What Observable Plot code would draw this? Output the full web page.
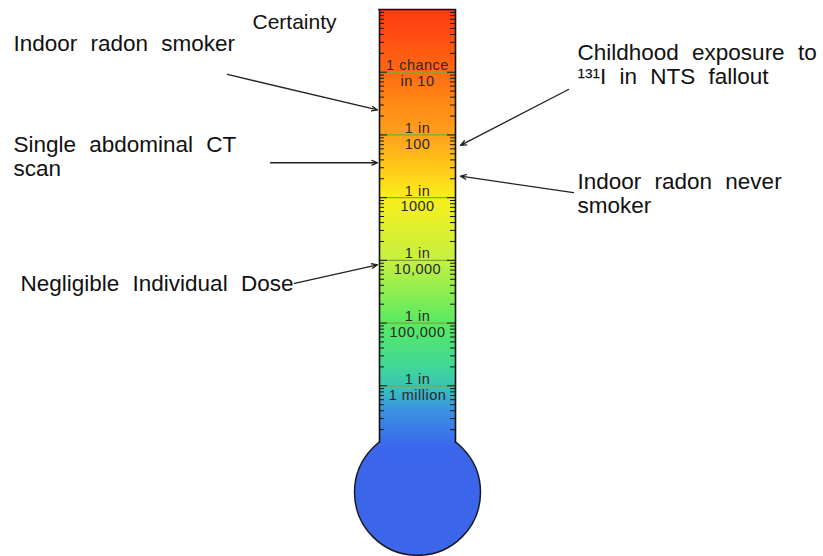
<!DOCTYPE html>
<html><head><meta charset="utf-8">
<script src="https://cdn.jsdelivr.net/npm/d3@7"></script>
<script src="https://cdn.jsdelivr.net/npm/@observablehq/plot@0.6"></script>
<style>body{margin:0;background:#fff}</style>
</head><body><div id="chart"></div>
<script>
// ---- Data ----
const scaleTopLabel = "Certainty";
const decadeRisks = [1e-1, 1e-2, 1e-3, 1e-4, 1e-5, 1e-6];
const decadeTopLines = ["1 chance", "1 in", "1 in", "1 in", "1 in", "1 in"];
const decadeBottomLines = ["in 10", "100", "1000", "10,000", "100,000", "1 million"];
const annotationLabels = [
  "Indoor radon smoker",
  "Single abdominal CT\nscan",
  "Childhood exposure to\n¹³¹I in NTS fallout",
  "Indoor radon never\nsmoker",
  "Negligible Individual Dose"
];
const annotationRisks = [0.025, 0.0036, 0.0068, 0.0022, 0.000085];
const colorStopRisks = [1, 0.3, 0.1, 0.03, 0.01, 0.003, 0.001, 1e-4, 1e-5, 2e-6, 1e-6, 4e-7, 1e-7];
const colorStopColors = ["#ff3a10", "#ff5212", "#ff6a12", "#ff8a16", "#ffa01c", "#ffc818", "#f8ef1c",
                         "#c6f040", "#58ea62", "#40d896", "#3cc4b4", "#3a92e2", "#3a66ee"];

// ---- Layout ----
const W = 823, H = 556;
const tubeLeft = 379, tubeRight = 455, tubeCenter = 417;
const tubeTop = 1, tubeBottom = 1e-7, tubeFillBottom = 6e-8, edgeBottom = 1.2e-7;
const bulbRisk = 2e-8, bulbRadius = 63;
const arrowTails = [{x: 227, y: 0.092}, {x: 270, y: 0.0036}, {x: 568, y: 0.053}, {x: 573, y: 0.0012}, {x: 294, y: 0.000043}];
const arrowHeadX = [377, 377, 460, 460, 377];
const labelPos = [{x: 13, y: 50}, {x: 13, y: 175}, {x: 577, y: 83}, {x: 577, y: 212}, {x: 20, y: 290}];
const font = "'Liberation Sans', Arial, sans-serif";

const gradientMark = (index, scales) => {
  const y0 = scales.y(tubeTop), y1 = scales.y(tubeBottom);
  const defs = d3.create("svg:defs");
  const g = defs.append("linearGradient").attr("id", "tubeGrad")
    .attr("gradientUnits", "userSpaceOnUse")
    .attr("x1", 0).attr("x2", 0).attr("y1", y0).attr("y2", y1);
  colorStopRisks.forEach((r, i) => g.append("stop")
    .attr("offset", (scales.y(r) - y0) / (y1 - y0))
    .attr("stop-color", colorStopColors[i]));
  return defs.node();
};

const tickRows = d3.scaleLog().domain([tubeBottom, tubeTop]).ticks()
  .filter(v => v > tubeBottom * 1.01 && v < tubeTop * 0.99)
  .map(v => ({v, major: Math.abs(Math.log10(v) - Math.round(Math.log10(v))) < 1e-9}));

const decadeRows = decadeRisks.map((r, i) => ({r, top: decadeTopLines[i], bottom: decadeBottomLines[i]}));
const arrowRows = annotationRisks.map((r, i) => ({x1: arrowTails[i].x, y1: arrowTails[i].y, x2: arrowHeadX[i], y2: r}));

const labelMarks = annotationLabels.map((t, i) => Plot.text([t], {
  text: d => d, frameAnchor: "top-left", dx: labelPos[i].x, dy: labelPos[i].y,
  textAnchor: "start", lineAnchor: "bottom", lineHeight: 1.05, fontSize: 22.5, fill: "#111"
}));

const svg = Plot.plot({
  width: W, height: H,
  marginTop: 0, marginRight: 0, marginBottom: 0, marginLeft: 0,
  style: {fontFamily: font, background: "#fff"},
  x: {domain: [0, W], range: [0, W], axis: null},
  y: {type: "log", domain: [tubeBottom, tubeTop], range: [448, 9], axis: null},
  marks: [
    gradientMark,
    Plot.dot([0], {x: () => tubeCenter, y: () => bulbRisk, r: bulbRadius, fill: "#3b66ea", stroke: "#1b1b28", strokeWidth: 1.5}),
    Plot.rect([0], {x1: () => tubeLeft, x2: () => tubeRight, y1: () => tubeFillBottom, y2: () => tubeTop, fill: "url(#tubeGrad)"}),
    Plot.ruleY(decadeRows, {y: "r", x1: () => tubeLeft, x2: () => tubeRight, stroke: "#7fa83a", strokeWidth: 1.2}),
    Plot.ruleY(tickRows, {y: "v", x1: () => tubeLeft, x2: d => tubeLeft + (d.major ? 8 : 5), stroke: "#151515", strokeWidth: 1}),
    Plot.ruleY(tickRows, {y: "v", x1: d => tubeRight - (d.major ? 8 : 5), x2: () => tubeRight, stroke: "#151515", strokeWidth: 1}),
    Plot.ruleX([tubeLeft, tubeRight], {x: d => d, y1: () => edgeBottom, y2: () => tubeTop, stroke: "#111", strokeWidth: 1.6}),
    Plot.ruleY([tubeTop], {y: d => d, x1: () => tubeLeft - 0.8, x2: () => tubeRight + 0.8, stroke: "#111", strokeWidth: 1.6}),
    Plot.text(decadeRows, {x: () => tubeCenter, y: "r", text: "top", lineAnchor: "bottom", dy: -2, fontSize: 14.5, fill: "#2a2a2a"}),
    Plot.text(decadeRows, {x: () => tubeCenter, y: "r", text: "bottom", lineAnchor: "top", dy: 3.5, fontSize: 14.5, fill: "#2a2a2a"}),
    Plot.arrow(arrowRows, {x1: "x1", y1: "y1", x2: "x2", y2: "y2", stroke: "#222", strokeWidth: 1.3, headLength: 7, headAngle: 45}),
    Plot.text([scaleTopLabel], {text: d => d, frameAnchor: "top-left", dx: 252, dy: 28, textAnchor: "start", lineAnchor: "bottom", fontSize: 21, fill: "#111"}),
    ...labelMarks
  ]
});
d3.select(svg).selectAll('g[aria-label="text"]').each(function(_, i) {
  if (i < 2) this.style.letterSpacing = "0.5px";  // slightly wide tube labels
  if (i >= 3) this.style.wordSpacing = "7px";     // wide word gaps in side notes
});
document.getElementById("chart").appendChild(svg);
</script>
</body></html>
